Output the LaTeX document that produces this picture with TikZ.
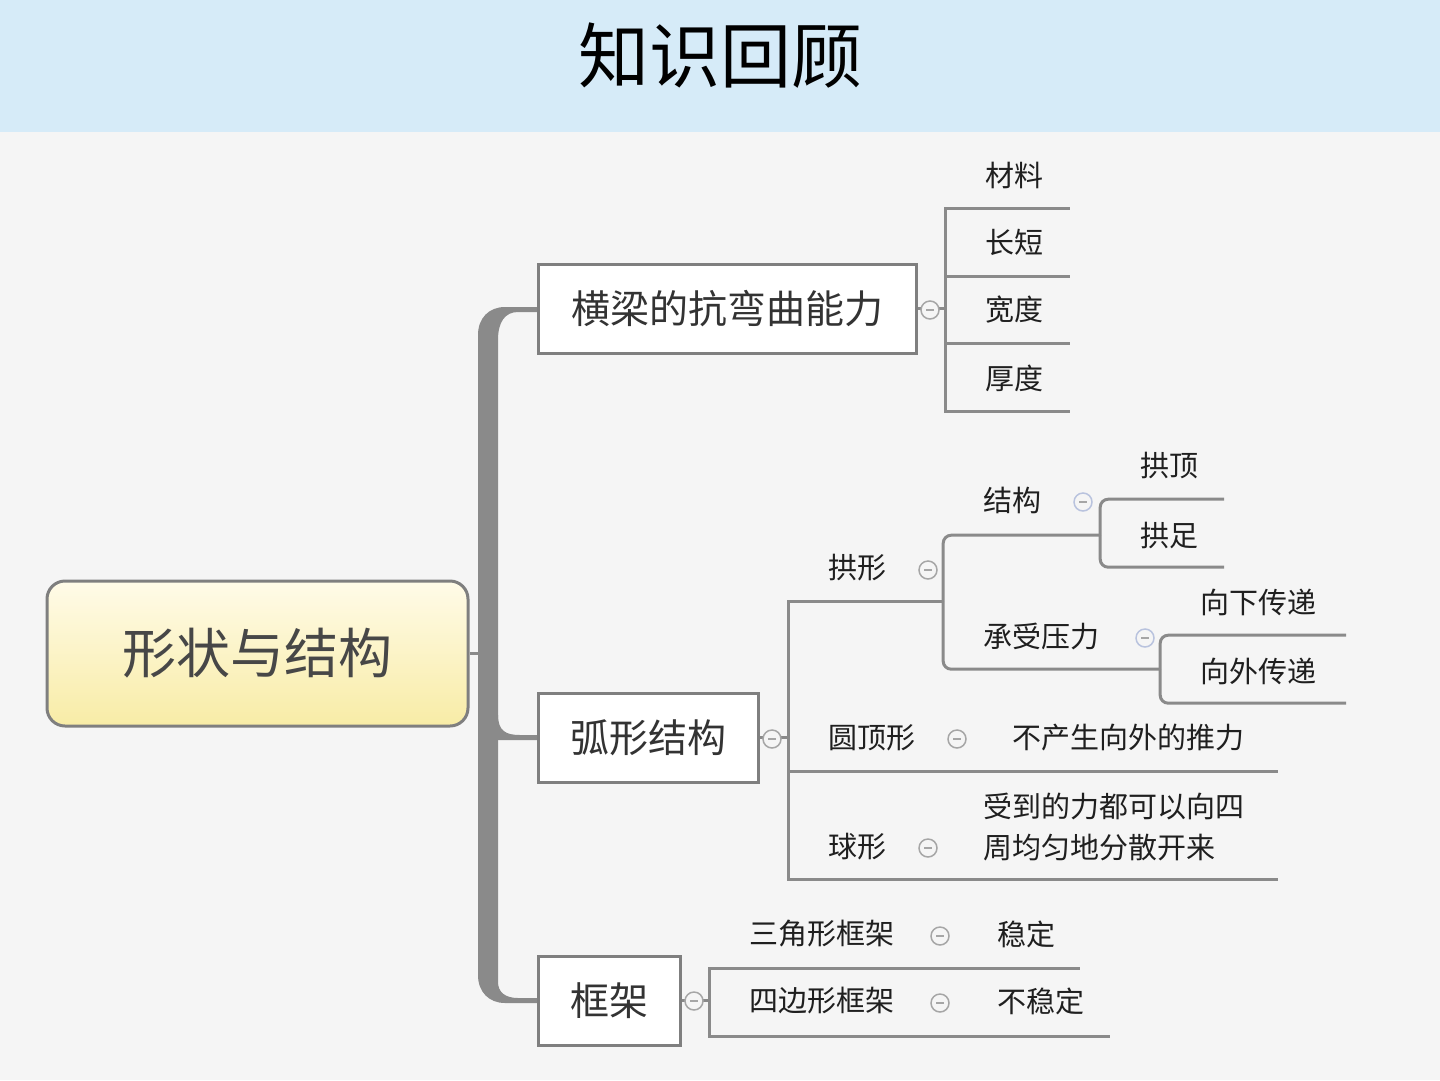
\documentclass[tikz,border=0pt]{standalone}
\usepackage{fontspec}
\setmainfont{Noto Sans CJK SC}

\definecolor{bannerblue}{HTML}{D6EBF8}
\definecolor{pagegray}{HTML}{F5F5F5}
\definecolor{linegray}{HTML}{8A8A8A}
\definecolor{boxgray}{HTML}{7F7F7F}
\definecolor{rootlight}{HTML}{FFFBE8}
\definecolor{rootdark}{HTML}{F8ECA6}
\definecolor{foldgray}{HTML}{A6A6A6}
\definecolor{foldblue}{HTML}{B9C3DE}

\newcommand{\pad}{\hspace*{40pt}}

\tikzset{
	rootbox/.style={draw=boxgray, line width=3pt, rounded corners=18pt, top color=rootlight, bottom color=rootdark,
		minimum width=421pt, minimum height=145pt, font=\fontsize{54}{60}\selectfont, text=black!72},
	topic/.style={draw=boxgray, line width=3pt, fill=white, minimum height=89pt, font=\fontsize{39}{44}\selectfont, text=black!80},
	leaf/.style={inner sep=0pt, align=left, font=\fontsize{29}{41}\selectfont, text=black!88},
	branchline/.style={draw=linegray, line width=3pt},
	trunk/.style={fill=linegray},
	fold/.style={circle, draw=foldgray, line width=1.5pt, fill=pagegray, minimum size=18pt, inner sep=0pt,
		path picture={\draw[foldgray, line width=1.5pt] ([xshift=-4pt]path picture bounding box.center) -- ([xshift=4pt]path picture bounding box.center);}},
}

\begin{document}
\begin{tikzpicture}[x=1pt, y=-1pt]
	\useasboundingbox (0,0) rectangle (1440,1080);
	\fill[pagegray] (0,0) rectangle (1440,1080);
	\fill[bannerblue] (0,0) rectangle (1440,132);
	
	\node (title) at (720,56) {\fontsize{71}{71}\selectfont 知识回顾};
	
	% main trunk
	\fill[trunk] (538,307) -- (505,307) .. controls (489,307) and (478,318) .. (478,335) -- (478,975)
		.. controls (478,992) and (489,1003) .. (505,1003) -- (538,1003) -- (538,998) -- (518,998)
		.. controls (505,998) and (498,992) .. (498,982) -- (498,340) .. controls (498,322) and (505,312) .. (518,312) -- (538,312) -- cycle;
	\fill[trunk] (498,715) .. controls (498,731) and (506,735) .. (520,735) -- (538,735) -- (538,740) -- (498,740) -- cycle;
	
	\node[rootbox] (root) at (257.5,653.5) {形状与结构};
	\node[topic, minimum width=378pt] (beam) at (727,308.5) {横梁的抗弯曲能力};
	\node[topic, minimum width=220pt] (arc) at (648,737.5) {弧形结构};
	\node[topic, minimum width=142pt] (frame) at (609,1000.5) {框架};
	
	\draw[branchline] (root.east) -- ++(12,0);
	
	% beam
	\node[leaf, text width=125pt, minimum height=66pt] (mat) at (1007.5,175) {\pad 材料};
	\node[leaf, text width=125pt, minimum height=68pt] (len) at (1007.5,242) {\pad 长短};
	\node[leaf, text width=125pt, minimum height=66pt] (wid) at (1007.5,310) {\pad 宽度};
	\node[leaf, text width=125pt, minimum height=66pt] (thk) at (1007.5,378) {\pad 厚度};
	\coordinate (beamfork) at (945,308.5);
	\draw[branchline] (beam.east) -- (beamfork);
	\draw[branchline] (beamfork) |- (mat.south east);
	\draw[branchline] (beamfork) |- (len.south east);
	\draw[branchline] (beamfork) |- (wid.south east);
	\draw[branchline] (beamfork) |- (thk.south east);
	
	% arc
	\node[leaf, text width=155pt, minimum height=66pt] (gong) at (865.5,568) {\pad 拱形};
	\node[leaf, text width=157pt, minimum height=70pt] (jg) at (1021.5,500) {\pad 结构};
	\node[leaf, text width=124pt, minimum height=66pt] (ding) at (1162,466) {\pad 拱顶};
	\node[leaf, text width=124pt, minimum height=64pt] (zu) at (1162,535) {\pad 拱足};
	\node[leaf, text width=217pt, minimum height=66pt] (press) at (1051.5,636) {\pad 承受压力};
	\node[leaf, text width=186pt, minimum height=66pt] (down) at (1253,602) {\pad 向下传递};
	\node[leaf, text width=186pt, minimum height=64pt] (outw) at (1253,671) {\pad 向外传递};
	\node[leaf, text width=184pt, minimum height=66pt] (dome) at (880,738) {\pad 圆顶形};
	\node[leaf, text width=306pt, minimum height=66pt] (nopush) at (1125,738) {\pad 不产生向外的推力};
	\node[leaf, text width=155pt, minimum height=64pt] (ball) at (865.5,847) {\pad 球形};
	\node[leaf, text width=335pt, minimum height=105pt] (spread) at (1110.5,826.5) {\pad 受到的力都可以向四\\\pad 周均匀地分散开来};
	\coordinate (arcfork) at (788,737.5);
	\draw[branchline] (arc.east) -- (arcfork);
	\draw[branchline] (arcfork) |- (gong.south east);
	\draw[branchline] (arcfork) |- (dome.south east) -- (nopush.south east);
	\draw[branchline] (arcfork) |- (ball.south east) -- (spread.south east);
	\draw[branchline, rounded corners=8pt] (gong.south east) |- (jg.south east);
	\draw[branchline, rounded corners=8pt] (gong.south east) |- (press.south east);
	\draw[branchline, rounded corners=8pt] (jg.south east) |- (ding.south east);
	\draw[branchline, rounded corners=8pt] (jg.south east) |- (zu.south east);
	\draw[branchline, rounded corners=8pt] (press.south east) |- (down.south east);
	\draw[branchline, rounded corners=8pt] (press.south east) |- (outw.south east);
	
	% frame
	\node[leaf, text width=248pt, minimum height=68pt] (tri) at (833,934) {\pad 三角形框架};
	\node[leaf, text width=123pt, minimum height=68pt] (stable) at (1018.5,934) {\pad 稳定};
	\node[leaf, text width=248pt, minimum height=70pt] (quad) at (833,1001) {\pad 四边形框架};
	\node[leaf, text width=153pt, minimum height=70pt] (unstable) at (1033.5,1001) {\pad 不稳定};
	\coordinate (framefork) at (709,1000.5);
	\draw[branchline] (frame.east) -- (framefork);
	\draw[branchline] (framefork) |- (tri.south east) -- (stable.south east);
	\draw[branchline] (framefork) |- (quad.south east) -- (unstable.south east);
	
	% fold buttons
	\node[fold] (beamfold) at (930,310) {};
	\node[fold] (arcfold) at (772,739) {};
	\node[fold] (framefold) at (694,1001) {};
	\node[fold] (gongfold) at (928,570) {};
	\node[fold, draw=foldblue] (jgfold) at (1083,502) {};
	\node[fold, draw=foldblue] (pressfold) at (1145,638) {};
	\node[fold] (domefold) at (957,739) {};
	\node[fold] (ballfold) at (928,848) {};
	\node[fold] (trifold) at (940,936) {};
	\node[fold] (quadfold) at (940,1003) {};
\end{tikzpicture}
\end{document}
